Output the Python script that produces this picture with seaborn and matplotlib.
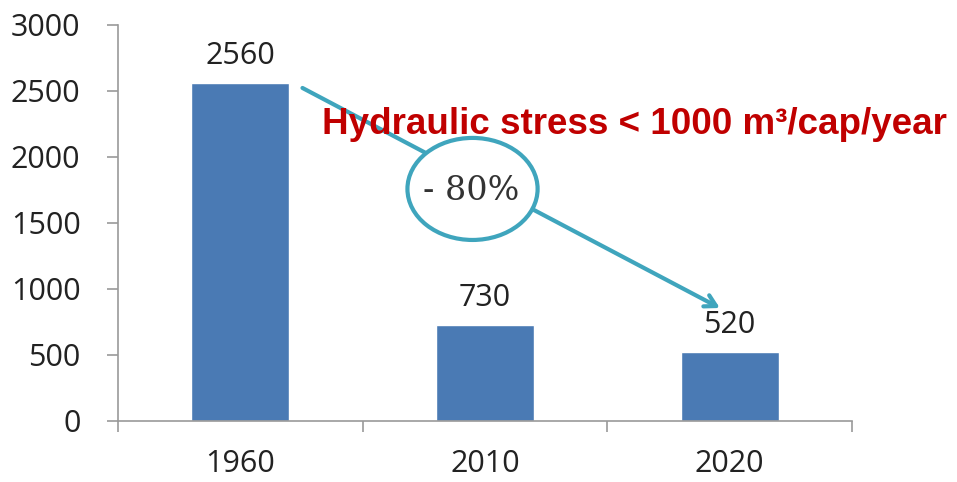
import matplotlib
matplotlib.use("Agg")
import matplotlib.pyplot as plt
from matplotlib.patches import Ellipse
import seaborn as sns

# data
years = ["1960", "2010", "2020"]
water = [2560, 730, 520]
y_ticks = [0, 500, 1000, 1500, 2000, 2500, 3000]
drop_label = "- 80%"
stress_label = "Hydraulic stress < 1000 m³/cap/year"

sns.set_style("white")
plt.rcParams["font.family"] = ["Open Sans", "DejaVu Sans"]

fig = plt.figure(figsize=(9.57, 4.82), dpi=100)
ax = fig.add_axes([118 / 957, 1 - 421 / 482, (852 - 118) / 957, (421 - 25) / 482])

sns.barplot(x=years, y=water, color="#4a7ab4", width=0.4, saturation=1, ax=ax)

ax.set_xlim(-0.5, 2.5)
ax.set_ylim(0, 3000)
ax.set_yticks(y_ticks)

# spines / ticks like the excel original
for s in ["top", "right"]:
    ax.spines[s].set_visible(False)
for s in ["left", "bottom"]:
    ax.spines[s].set_color("#9a9a9a")
    ax.spines[s].set_linewidth(1.2)
ax.tick_params(axis="y", direction="out", length=8, width=1.2, color="#9a9a9a",
               pad=19, labelsize=22, labelcolor="#222222", left=True)
ax.tick_params(axis="x", which="major", length=0, pad=20, labelsize=22,
               labelcolor="#222222")
ax.set_xticks([-0.5, 0.5, 1.5, 2.5], minor=True)
ax.tick_params(axis="x", which="minor", direction="out", length=8, width=1.2,
               color="#9a9a9a", bottom=True)
ax.set_xlabel("")
ax.set_ylabel("")

# value labels
for i, v in enumerate(water):
    ax.text(i, v + 90, str(v), ha="center", va="bottom", fontsize=22,
            color="#222222")

# arrow showing the decline
teal = "#3fa5bd"
ax.annotate("", xy=(1.96, 856), xytext=(0.254, 2523),
            arrowprops=dict(arrowstyle="->,head_length=0.8,head_width=0.45",
                            color=teal, lw=3, shrinkA=0, shrinkB=0),
            annotation_clip=False)
ell = Ellipse((0.949, 1758), width=0.532, height=773, facecolor="white",
              edgecolor=teal, lw=3, zorder=5)
ax.add_patch(ell)
ax.text(0.945, 1745, drop_label, ha="center", va="center", fontsize=24,
        family="DejaVu Serif", color="#333333", zorder=6)

fig.text(322 / 957, 1 - 134 / 482, stress_label, ha="left", va="baseline",
         fontsize=26.5, fontweight="bold", color="#c00000",
         family=["Liberation Sans", "DejaVu Sans"], zorder=10)

fig.savefig("out.png", dpi=100, facecolor="white")
